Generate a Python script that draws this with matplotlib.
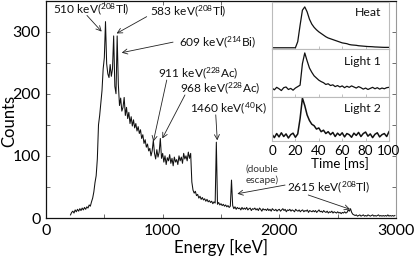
import numpy as np
import matplotlib
matplotlib.use("Agg")
import matplotlib.pyplot as plt
from matplotlib.ticker import MultipleLocator

plt.rcParams['font.family'] = ['Lato', 'DejaVu Sans']
plt.rcParams['mathtext.fontset'] = 'custom'
plt.rcParams['mathtext.rm'] = 'Lato'
plt.rcParams['mathtext.it'] = 'Lato:italic'
plt.rcParams['mathtext.bf'] = 'Lato:bold'

# ---- spectrum: energy bins (keV) and counts ----
energy_start, energy_step = 210, 10
counts = [
    5, 9, 11, 8, 13, 10, 14, 11, 15,
    12, 16, 13, 17, 14, 18, 16, 21, 19, 26,
    32, 42, 57, 68, 95, 150, 165, 185, 205, 240,
    258, 316, 248, 232, 226, 247, 228, 240, 293, 212,
    200, 293, 215, 181, 193, 172, 178, 194, 165, 178,
    160, 170, 152, 163, 148, 158, 145, 152, 140, 147,
    136, 142, 128, 134, 120, 126, 114, 119, 108, 112,
    100, 108, 125, 104, 95, 110, 98, 106, 128, 96,
    104, 90, 100, 86, 97, 92, 102, 88, 96, 84,
    98, 90, 94, 86, 100, 92, 98, 88, 104, 95,
    100, 92, 106, 96, 104, 58, 45, 40, 43, 36,
    38, 32, 35, 30, 33, 29, 31, 27, 30, 26,
    28, 25, 27, 23, 26, 24, 122, 22, 25, 21,
    23, 20, 22, 19, 21, 18, 20, 17, 19, 61,
    20, 15, 18, 14, 17, 15, 16, 13, 17, 14,
    16, 14, 17, 13, 15, 16, 12, 15, 14, 16,
    13, 15, 12, 16, 14, 11, 15, 13, 14, 12,
    15, 12, 14, 11, 15, 13, 12, 14, 11, 13,
    14, 11, 13, 15, 12, 14, 10, 13, 12, 14,
    11, 13, 12, 10, 14, 12, 11, 13, 10, 12,
    13, 10, 12, 11, 13, 9, 12, 11, 10, 12,
    10, 12, 9, 11, 13, 10, 11, 9, 12, 10,
    9, 11, 8, 10, 9, 11, 8, 10, 9, 8,
    10, 8, 9, 7, 9, 8, 10, 8, 9, 13,
    11, 15, 9, 6, 5, 4, 5, 3, 4, 5,
    3, 4, 5, 3, 4, 3, 5, 4, 3, 4,
    5, 3, 4, 3, 4, 5, 3, 4, 3, 4,
    3, 4, 3, 5, 3, 4, 3, 4, 3, 4,
]
energy = energy_start + energy_step * np.arange(len(counts))

x_ticks = [0, 1000, 2000, 3000]
y_ticks = [0, 100, 200, 300]

# ---- peak labels: text, left-edge E, centre C, arrows (tail E, C, head E, C)
peak_labels = [
    (r"510 keV($^{\mathrm{208}}$Tl)", 60, 336, [(351, 326, 477, 300)]),
    (r"583 keV($^{\mathrm{208}}$Tl)", 891, 333, [(863, 324, 605, 297)]),
    (r"609 keV($^{\mathrm{214}}$Bi)", 1140, 283, [(1089, 283, 649, 266)]),
    (r"911 keV($^{\mathrm{228}}$Ac)", 960, 233, [(1035, 222, 920, 123)]),
    (r"968 keV($^{\mathrm{228}}$Ac)", 1149, 209, [(1191, 198, 997, 128)]),
    (r"1460 keV($^{\mathrm{40}}$K)", 1230, 177, [(1455, 166, 1468, 125)]),
    (r"2615 keV($^{\mathrm{208}}$Tl)", 2066, 50, [(2049, 53, 1640, 39), (2248, 37, 2606, 14)]),
]
escape_label = ("(double\nescape)", 1849, 70)

# ---- inset pulses (normalised amplitude vs time in ms) ----
time_ms = np.arange(0, 101, 2)
heat = [0, 0, 0, 0, 0, 0, 0, 0, 0, 0, 0, 0.15, 0.55, 0.92, 1.0,
        0.88, 0.70, 0.58, 0.50, 0.44, 0.39, 0.35, 0.31, 0.27, 0.24,
        0.22, 0.20, 0.18, 0.16, 0.14, 0.12, 0.11, 0.10, 0.08, 0.07,
        0.065, 0.06, 0.05, 0.045, 0.04, 0.035, 0.03, 0.028, 0.025, 0.02,
        0.018, 0.015, 0.012, 0.01, 0.01, 0.01]
light1 = [0.02, -0.03, 0.04, 0.0, -0.05, 0.03, 0.05, -0.02, 0.01, -0.04,
          0.02, 0.06, 0.10, 0.70, 1.0, 0.78, 0.58, 0.46, 0.36, 0.30,
          0.24, 0.20, 0.17, 0.12, 0.14, 0.09, 0.11, 0.06, 0.09, 0.05,
          0.08, 0.03, 0.07, 0.04, 0.08, 0.05, 0.02, 0.06, 0.03, -0.01,
          0.02, -0.02, 0.01, 0.04, 0.0, 0.03, -0.01, 0.02, 0.0, 0.03, 0.04]
light2 = [0.03, -0.06, 0.05, -0.04, 0.07, -0.03, 0.04, -0.07, 0.02, 0.06,
          -0.05, 0.04, 0.45, 1.0, 0.80, 0.55, 0.40, 0.30, 0.26, 0.17,
          0.20, 0.10, 0.14, 0.05, 0.10, 0.02, 0.08, -0.03, 0.06, 0.0,
          0.07, -0.04, 0.05, 0.02, -0.05, 0.06, 0.0, 0.08, -0.03, 0.05,
          0.09, -0.02, 0.04, -0.06, 0.03, 0.07, -0.04, 0.02, 0.05, -0.03, 0.10]
inset_names = ["Heat", "Light 1", "Light 2"]
inset_series = [heat, light1, light2]
inset_ylims = [(-0.03, 1.12), (-0.23, 1.11), (-0.15, 1.03)]
inset_label_y = [0.77, 0.73, 0.75]
time_ticks = [0, 20, 40, 60, 80, 100]

W, H = 415, 257
fig = plt.figure(figsize=(W / 100, H / 100), dpi=100)

def px_axes(x0, y0, x1, y1):
    return fig.add_axes([x0 / W, 1 - y1 / H, (x1 - x0) / W, (y1 - y0) / H])

ax = px_axes(46, 0.5, 396, 218)
ax.plot(energy, counts, color='#111111', lw=0.75)
ax.set_xlim(0, 3000)
ax.set_ylim(0, 350)
ax.set_xticks(x_ticks)
ax.set_yticks(y_ticks)
ax.xaxis.set_minor_locator(MultipleLocator(500))
ax.yaxis.set_minor_locator(MultipleLocator(50))
ax.tick_params(which='both', direction='in', top=True, right=True,
               labelsize=11.5, width=0.6, color='#555555')
ax.tick_params(which='major', length=3, pad=4)
ax.tick_params(which='minor', length=3)
for s in ['left', 'bottom', 'top']:
    ax.spines[s].set_color('#111111')
    ax.spines[s].set_linewidth(0.9)
ax.spines['right'].set_color('#999999')
ax.spines['right'].set_linewidth(0.8)
ax.set_xlabel("Energy [keV]", fontsize=12, labelpad=1)
ax.set_ylabel("Counts", fontsize=12)
ax.yaxis.set_label_coords(-0.105, 0.446)
ax.yaxis.label.set_verticalalignment('center')

for text, tx, ty, arrows in peak_labels:
    ax.text(tx, ty, text, fontsize=8.6, ha='left', va='center', color='#111111')
    for (x0, y0, x1, y1) in arrows:
        ax.annotate('', xy=(x1, y1), xytext=(x0, y0),
                    arrowprops=dict(arrowstyle='->,head_length=0.35,head_width=0.18',
                                    color='#222222', lw=0.6, shrinkA=0, shrinkB=0))
et, ex, ey = escape_label
ax.text(ex, ey, et, fontsize=7.2, ha='center', va='center', color='#333333',
        linespacing=1.3)

# ---- inset ----
bounds = [(2, 49), (49, 97), (97, 141)]
inset_axes = []
for i, ((y0, y1), name, series, yl, ly) in enumerate(
        zip(bounds, inset_names, inset_series, inset_ylims, inset_label_y)):
    ia = px_axes(272, y0, 389, y1)
    ia.plot(time_ms, series, color='#111111', lw=0.9 if i < 2 else 1.1)
    ia.set_xlim(0, 100)
    ia.set_ylim(*yl)
    ia.set_yticks([])
    ia.set_xticks(time_ticks)
    ia.tick_params(direction='in', length=2, width=0.5, color='#aaaaaa',
                   labelbottom=(i == 2), labelsize=9.6, pad=3)
    for s in ia.spines.values():
        s.set_color('#bbbbbb')
        s.set_linewidth(0.8)
    ia.text(0.93, ly, name, transform=ia.transAxes, ha='right', va='center',
            fontsize=8.8, color='#111111')
    inset_axes.append(ia)
inset_axes[2].set_xlabel("Time [ms]", fontsize=9.6, labelpad=0)
inset_axes[2].xaxis.set_label_coords(0.58, -0.37)
inset_axes[2].xaxis.label.set_verticalalignment('top')

fig.savefig("out.png", dpi=100)
